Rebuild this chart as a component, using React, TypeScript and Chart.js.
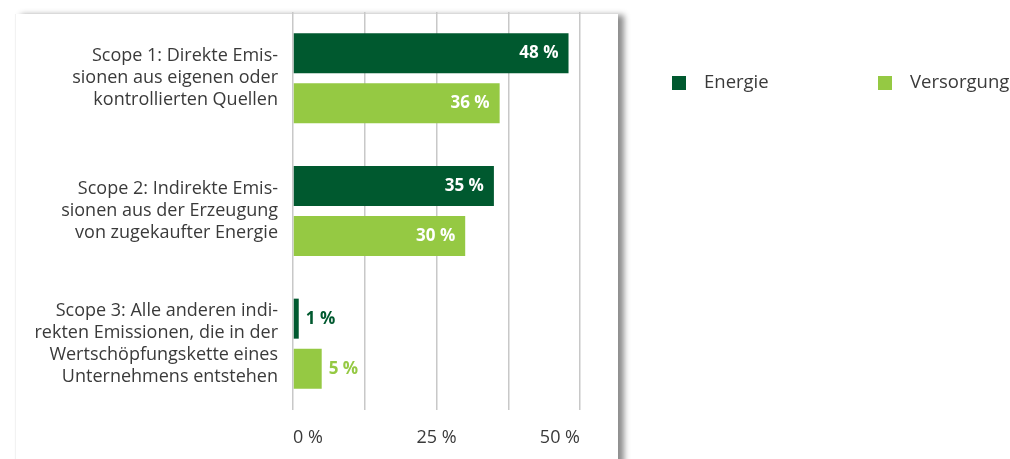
import React, { useEffect, useRef } from "react";
import { Chart, registerables } from "chart.js";

Chart.register(...registerables);

const categories: string[][] = [
  ["Scope 1: Direkte Emis-", "sionen aus eigenen oder", "kontrollierten Quellen"],
  ["Scope 2: Indirekte Emis-", "sionen aus der Erzeugung", "von zugekaufter Energie"],
  ["Scope 3: Alle anderen indi-", "rekten Emissionen, die in der", "Wertschöpfungskette eines", "Unternehmens entstehen"],
];
const seriesNames = ["Energie", "Versorgung"];
const energieValues = [48, 35, 1];
const versorgungValues = [36, 30, 5];
const seriesColors = ["#00592F", "#95C943"];
const tickLabels: Record<number, string> = { 0: "0 %", 25: "25 %", 50: "50 %" };

const FONT = "'Open Sans'";
const TEXT = "#3a3a3a";

const valueLabels = {
  id: "valueLabels",
  afterDatasetsDraw(chart: any) {
    const ctx = chart.ctx;
    ctx.save();
    ctx.font = `bold 17px ${FONT}`;
    ctx.textBaseline = "middle";
    chart.data.datasets.forEach((ds: any, di: number) => {
      const meta = chart.getDatasetMeta(di);
      meta.data.forEach((bar: any, i: number) => {
        const v = ds.data[i];
        const { x, y } = bar.getProps(["x", "y"], true);
        const label = `${v} %`;
        if (v >= 10) {
          ctx.fillStyle = "#ffffff";
          ctx.textAlign = "right";
          ctx.fillText(label, x - 10, y);
        } else {
          ctx.fillStyle = ds.backgroundColor;
          ctx.textAlign = "left";
          ctx.fillText(label, x + 7, y);
        }
      });
    });
    ctx.restore();
  },
};

const sideLegend = {
  id: "sideLegend",
  afterDraw(chart: any) {
    const ctx = chart.ctx;
    const xs = [672, 878];
    const cy = 83;
    ctx.save();
    ctx.font = `18.5px ${FONT}`;
    ctx.textBaseline = "middle";
    ctx.textAlign = "left";
    chart.data.datasets.forEach((ds: any, i: number) => {
      ctx.fillStyle = ds.backgroundColor;
      ctx.fillRect(xs[i], cy - 7, 14, 14);
      ctx.fillStyle = TEXT;
      ctx.fillText(ds.label, xs[i] + 32, cy);
    });
    ctx.restore();
  },
};

export default function App() {
  const ref = useRef<HTMLCanvasElement | null>(null);

  useEffect(() => {
    if (!ref.current) return;
    const chart = new Chart(ref.current, {
      type: "bar",
      data: {
        labels: categories,
        datasets: [
          {
            label: seriesNames[0],
            data: energieValues,
            backgroundColor: seriesColors[0],
            barPercentage: 0.8,
            categoryPercentage: 0.754,
          },
          {
            label: seriesNames[1],
            data: versorgungValues,
            backgroundColor: seriesColors[1],
            barPercentage: 0.8,
            categoryPercentage: 0.754,
          },
        ],
      },
      options: {
        indexAxis: "y",
        responsive: false,
        animation: false,
        layout: { padding: { top: 12, right: 430, left: 0, bottom: 0 } },
        plugins: { legend: { display: false }, tooltip: { enabled: false } },
        scales: {
          x: {
            min: 0,
            max: 50,
            ticks: {
              stepSize: 12.5,
              autoSkip: false,
              maxRotation: 0,
              align: "inner",
              padding: 17,
              color: TEXT,
              font: { family: FONT, size: 18 },
              callback: (v: any) => tickLabels[Number(v)] ?? "",
            },
            grid: { color: "#c8c8c8", lineWidth: 1.5, drawTicks: false },
            border: { display: false },
            afterFit: (s: any) => {
              s.height = 49;
              s.paddingLeft = 0;
              s.paddingRight = 0;
            },
          },
          y: {
            ticks: {
              padding: 15,
              color: TEXT,
              font: { family: FONT, size: 18, lineHeight: "22px" },
            },
            grid: { display: false, drawTicks: false },
            border: { display: false },
            afterFit: (s: any) => {
              s.width = 293;
              s.paddingTop = 0;
              s.paddingBottom = 0;
            },
          },
        },
      } as any,
      plugins: [valueLabels, sideLegend],
    });
    return () => chart.destroy();
  }, []);

  return (
    <div
      style={{
        position: "fixed",
        left: 0,
        top: 0,
        width: 1010,
        height: 459,
        overflow: "hidden",
        background: "#ffffff",
      }}
    >
      <div
        style={{
          position: "absolute",
          left: 15,
          top: 14,
          width: 602,
          height: 470,
          background: "#ffffff",
          borderLeft: "1px solid #f2f2f2",
          boxShadow: "6px 1px 6px rgba(0,0,0,0.45)",
        }}
      />
      <canvas
        ref={ref}
        width={1010}
        height={459}
        style={{ position: "absolute", left: 0, top: 0, width: 1010, height: 459 }}
      />
    </div>
  );
}
